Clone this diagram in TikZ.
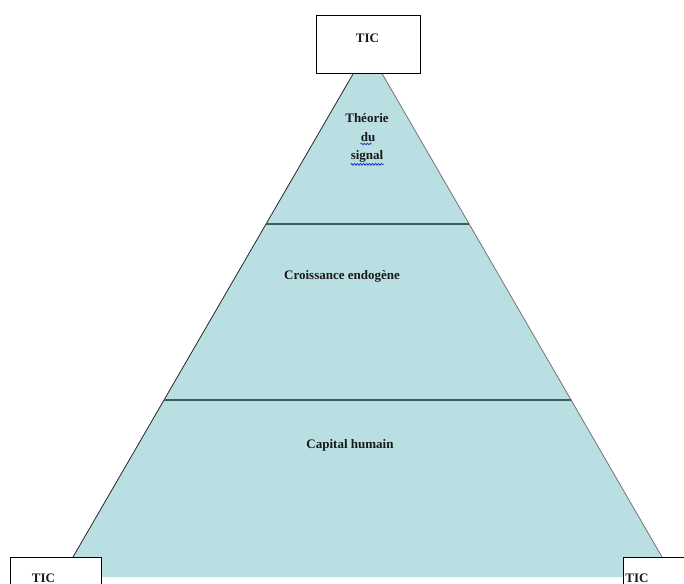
\documentclass[tikz,border=0pt]{standalone}
\usepackage{fontspec}
\setmainfont{Liberation Serif}
\usetikzlibrary{decorations.pathmorphing}
\definecolor{pyrfill}{RGB}{186,223,227}
\definecolor{divline}{RGB}{62,92,96}
\definecolor{spellblue}{RGB}{40,70,200}
\tikzset{
  lbl/.style={font=\fontsize{13}{15}\selectfont\bfseries, inner sep=0pt, text=black!90},
  tbox/.style={draw=black, line width=0.9pt, fill=white, inner sep=0pt},
  divider/.style={draw=divline, line width=1.6pt},
  wavy/.style={draw=spellblue, line width=0.9pt, decorate, decoration={snake, amplitude=0.8pt, segment length=3pt}}
}
\begin{document}
\begin{tikzpicture}[x=1pt,y=-1pt]
\useasboundingbox (0,0) rectangle (684,583);
\clip (0,0) rectangle (684,583);
% pyramid corners
\coordinate (tl) at (353.6,73);
\coordinate (tr) at (381.7,73);
\coordinate (bl) at (61.4,577);
\coordinate (br) at (673.6,577);
\coordinate (bls) at (73,557);
\coordinate (brs) at (662,557);
\coordinate (d1l) at (266.0,224);
\coordinate (d1r) at (469.1,224);
\coordinate (d2l) at (164.0,400);
\coordinate (d2r) at (571.1,400);
\fill[pyrfill] (tl) -- (tr) -- (br) -- (bl) -- cycle;
\draw[white!80!pyrfill, line width=0.8pt] (bl) -- (br);
\draw[black!85, line width=0.8pt] (tl) -- (bls);
\draw[black!55, line width=0.8pt] (tr) -- (brs);
\draw[divider] (d1l) -- (d1r);
\draw[divider] (d2l) -- (d2r);
% boxes
\node[tbox, minimum width=104pt, minimum height=58pt] (topbox) at (368.7,44) {};
\node[lbl] (toptic) at (367.5,38) {TIC};
\node[tbox, minimum width=91pt, minimum height=60pt, anchor=north west] (lbox) at (10,557) {};
\node[lbl] (ltic) at (43.5,578.5) {TIC};
\node[tbox, minimum width=90pt, minimum height=60pt, anchor=north west] (rbox) at (622.7,557) {};
\node[lbl] (rtic) at (637,578.5) {TIC};
% labels
\node[lbl] (theorie) at (367,118) {Théorie};
\node[lbl] (du) at (368,137) {du};
\node[lbl] (signal) at (367,156) {signal};
\draw[wavy] (du.south west) ++(0,2.2) -- ++(11,0);
\draw[wavy] (signal.south west) ++(0,2.2) -- ++(33,0);
\node[lbl] (croiss) at (342,276) {Croissance endogène};
\node[lbl] (capital) at (350,445) {Capital humain};
\end{tikzpicture}
\end{document}
